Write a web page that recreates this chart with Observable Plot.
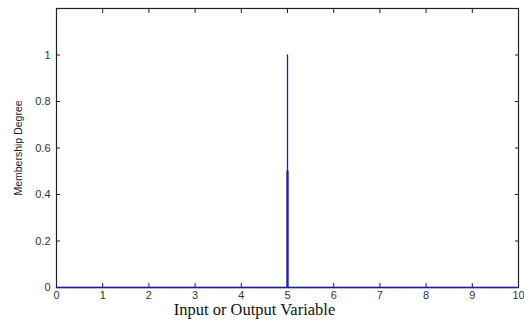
<!DOCTYPE html>
<html><head><meta charset="utf-8">
<script src="https://cdn.jsdelivr.net/npm/d3@7"></script>
<script src="https://cdn.jsdelivr.net/npm/@observablehq/plot@0.6"></script>
<style>body{margin:0;background:#fff}svg{display:block}</style>
</head><body><div id="c"></div>
<script>
const xs = [0, 5, 5, 5, 10];
const ys = [0, 0, 1, 0, 0];
const xTicks = [0,1,2,3,4,5,6,7,8,9,10];
const yTicks = [0, 0.2, 0.4, 0.6, 0.8, 1];
const thickX = [5];
const thickTop = [0.5];
const data = xs.map((x,i)=>({x, y: ys[i]}));
const fnt = "Liberation Sans, Arial, sans-serif";
const chart = Plot.plot({
  width: 524, height: 320,
  marginLeft: 56, marginRight: 6, marginTop: 8, marginBottom: 33,
  x: {domain: [0, 10]},
  y: {domain: [0, 1.2]},
  style: {fontFamily: fnt, fontSize: "11px", color: "#222"},
  marks: [
    Plot.axisX(xTicks, {tickSize: 0, tickPadding: 4, label: null, fontSize: 11, fill: "#333", tickFormat: d => String(d)}),
    Plot.axisX(xTicks, {tickSize: -4, tickFormat: () => "", label: null, stroke: "#222"}),
    Plot.axisX(xTicks, {anchor: "top", tickSize: -4, tickFormat: () => "", label: null, stroke: "#222"}),
    Plot.axisY(yTicks, {tickSize: 0, tickPadding: 6, label: null, fontSize: 11, fill: "#333", tickFormat: d => String(d)}),
    Plot.axisY(yTicks, {tickSize: -4, tickFormat: () => "", label: null, stroke: "#222"}),
    Plot.axisY(yTicks, {anchor: "right", tickSize: -4, tickFormat: () => "", label: null, stroke: "#222"}),
    Plot.frame({stroke: "#222", strokeWidth: 1.2}),
    Plot.ruleX(thickX, {x: d => d, y1: 0, y2: (d,i) => thickTop[i], stroke: "#1010a0", strokeWidth: 2.2}),
    Plot.line(data, {x: "x", y: "y", stroke: "#1c1ca8", strokeWidth: 1.3}),
    Plot.text(["Input or Output Variable"], {frameAnchor: "bottom", dy: 27, dx: -33, fontFamily: "Liberation Serif, Times New Roman, serif", fontSize: 16.5, fill: "#111"}),
    Plot.text(["Membership Degree"], {frameAnchor: "left", textAnchor: "middle", dx: -38, dy: 0, rotate: -90, fontFamily: "Liberation Sans Narrow, Arial Narrow, sans-serif", fontSize: 10.5, fill: "#222"})
  ]
});
document.getElementById("c").appendChild(chart);
</script></body></html>
